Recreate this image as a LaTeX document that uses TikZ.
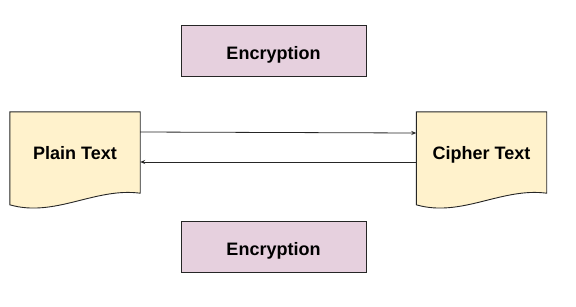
\documentclass[tikz,border=0pt]{standalone}
\usepackage{fontspec}
\setmainfont{Liberation Sans}
\usetikzlibrary{arrows.meta}
\definecolor{docfill}{HTML}{FFF2CC}
\definecolor{boxfill}{HTML}{E6D0DE}
\tikzset{
  label text/.style={font=\fontsize{18}{21}\selectfont\bfseries, text=black,
    text height=13pt, text depth=4pt},
  docnode/.style={label text, minimum width=130pt, minimum height=81pt, inner sep=0pt},
  docline/.style={draw=black!85, line width=0.9pt, fill=docfill},
  cryptbox/.style={label text, text height=21pt, draw=black!85, line width=0.9pt, fill=boxfill,
    minimum width=185pt, minimum height=51pt, inner sep=0pt},
  flow/.style={draw=black!85, line width=0.8pt, -{Stealth[length=5pt,width=4pt]}}
}
\begin{document}
\begin{tikzpicture}[x=1pt, y=-1pt]
        \useasboundingbox (0, 0) rectangle (576, 306);
        % Documents
        \node[docnode] (plain) at (75, 152.5) {};
        \node[docnode] (cipher) at (481.5, 152.5) {};
        \foreach \d in {plain, cipher} {
          \draw[docline] (\d.south east) -- (\d.north east) -- (\d.north west) -- ++(0, 93)
            .. controls +(45, 13) and +(-45, -6) .. (\d.south east) -- cycle;
        }
        \node[label text] at (75, 154.5) {Plain Text};
        \node[label text] at (481.5, 154.5) {Cipher Text};

        % Encryption boxes
        \node[cryptbox] (enctop) at (273.5, 50.5) {Encryption};
        \node[cryptbox] (encbot) at (273.5, 246.5) {Encryption};

        % Arrows between the documents
        \draw[flow] ([yshift=20.5pt]plain.east) -- ([yshift=19.5pt]cipher.west);
        \draw[flow] ([yshift=-9.5pt]cipher.west) -- ([yshift=-9.5pt]plain.east);
\end{tikzpicture}
\end{document}
